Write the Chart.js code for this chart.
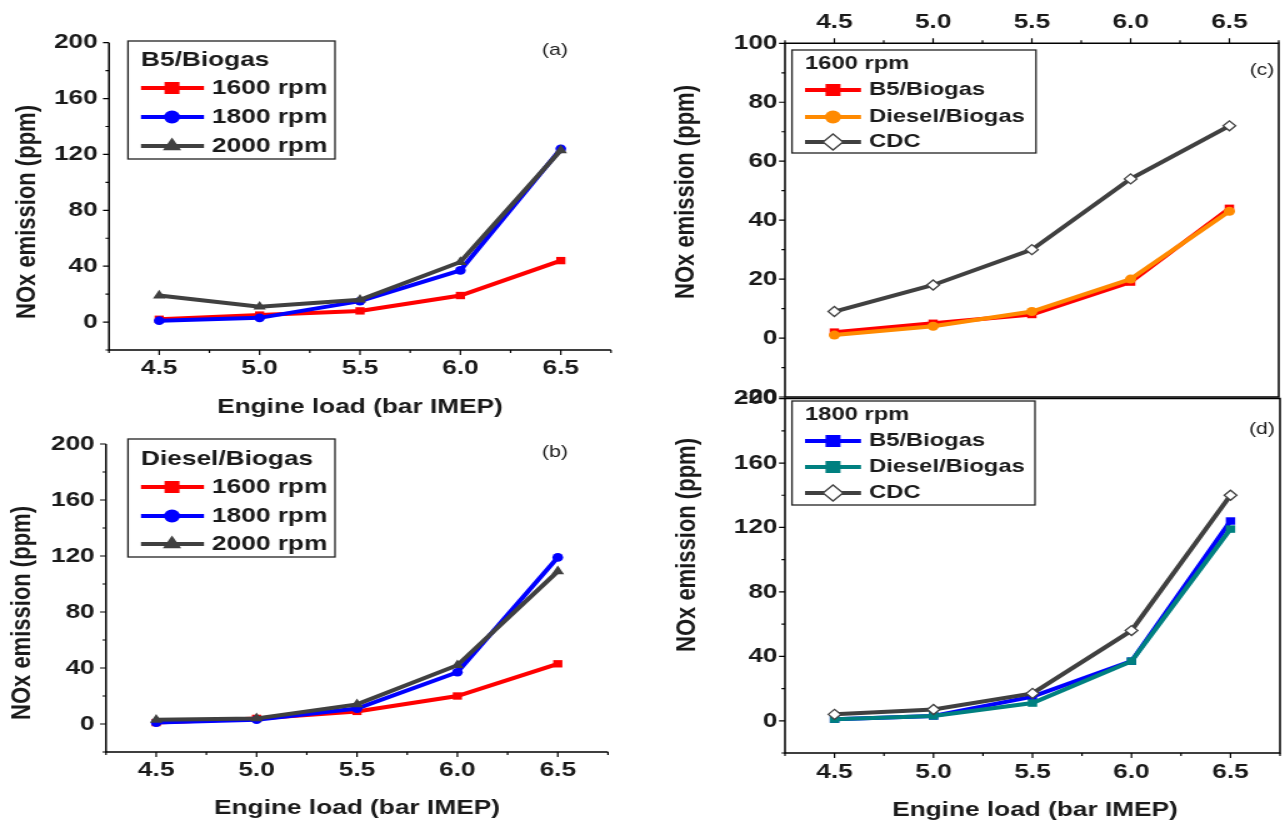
<!DOCTYPE html>
<html>
<head>
<meta charset="utf-8">
<title>NOx emission vs engine load</title>
<script src="https://cdn.jsdelivr.net/npm/chart.js@4.4.1/dist/chart.umd.min.js"></script>
<style>
  html, body { margin: 0; padding: 0; background: #fff; }
  body { width: 1287px; height: 821px; position: relative; overflow: hidden; }
  /* the source figure is stretched horizontally, so every panel is too */
  canvas { position: absolute; transform: scaleX(1.25); transform-origin: 0 0; }
</style>
</head>
<body>
<canvas id="chartA" width="512" height="420"></canvas>
<canvas id="chartB" width="512" height="401"></canvas>
<canvas id="chartC" width="519" height="420"></canvas>
<canvas id="chartD" width="519" height="441"></canvas>
<script>
// engine load (bar IMEP)
const loads = [4.5, 5.0, 5.5, 6.0, 6.5];
const xTickLabels = [4.5, 5.0, 5.5, 6.0, 6.5];
const yTicks200 = [0, 40, 80, 120, 160, 200];
const yTicks100 = [-20, 0, 20, 40, 60, 80, 100];

// NOx (ppm), B5/Biogas
const b5_1600 = [2, 5, 8, 19, 44];
const b5_1800 = [1, 3, 15, 37, 124];
const b5_2000 = [19, 11, 16, 43, 123];
// NOx (ppm), Diesel/Biogas
const dsl_1600 = [1, 4, 9, 20, 43];
const dsl_1800 = [1, 3, 11, 37, 119];
const dsl_2000 = [3, 4, 14, 42, 109];
// NOx (ppm), conventional diesel combustion
const cdc_1600 = [9, 18, 30, 54, 72];
const cdc_1800 = [4, 7, 17, 56, 140];

const S = 1.25;
const FONT = "'Liberation Sans', Arial, sans-serif";
const INK = "#1a1a1a";
Chart.defaults.font.family = FONT;

function drawMarker(ctx, style, x, y, r, color) {
  ctx.beginPath();
  if (style === "rect") ctx.rect(x - r, y - r, 2 * r, 2 * r);
  else if (style === "circle") ctx.arc(x, y, r, 0, Math.PI * 2);
  else if (style === "triangle") {
    ctx.moveTo(x, y - r);
    ctx.lineTo(x + 0.866 * r, y + 0.5 * r);
    ctx.lineTo(x - 0.866 * r, y + 0.5 * r);
    ctx.closePath();
  } else {
    ctx.moveTo(x - r, y);
    ctx.lineTo(x, y - r);
    ctx.lineTo(x + r, y);
    ctx.lineTo(x, y + r);
    ctx.closePath();
  }
  if (style === "rectRot") {
    ctx.fillStyle = "#fff";
    ctx.fill();
    ctx.strokeStyle = color;
    ctx.lineWidth = 1.3;
    ctx.stroke();
  } else {
    ctx.fillStyle = color;
    ctx.fill();
  }
}

function makePanel(p) {
  const canvas = document.getElementById(p.id);
  canvas.style.left = p.left + "px";
  canvas.style.top = p.top + "px";
  const W = canvas.width, H = canvas.height;
  const px = (x) => (x - p.left) / S;
  const py = (y) => y - p.top;
  const xAxisH = p.bottomLabels ? 50 : 0;

  const xLabel = (v) =>
    xTickLabels.some((t) => Math.abs(t - v) < 1e-6) ? v.toFixed(1) : "";
  const yLabel = (v) => {
    const n = Math.round(v);
    return Math.abs(v - n) < 1e-6 && p.yLabels.includes(n) ? String(n) : "";
  };
  const tickFont = { size: 21, weight: "bold" };

  const xScale = (position, pad, fit) => ({
    type: "linear",
    axis: "x",
    position: position,
    min: 4.25,
    max: 6.75,
    afterFit: fit,
    grid: { display: false, drawTicks: false },
    border: { display: false },
    ticks: {
      stepSize: 0.25,
      autoSkip: false,
      maxRotation: 0,
      padding: pad,
      color: INK,
      font: tickFont,
      callback: xLabel,
    },
  });

  const scales = {
    x: xScale("bottom", p.xPad || 0, (s) => { s.height = xAxisH; }),
    y: {
      type: "linear",
      min: p.yMin,
      max: p.yMax,
      afterFit: (s) => { s.width = px(p.area.l); },
      grid: { display: false, drawTicks: false },
      border: { display: false },
      ticks: {
        stepSize: p.yStep,
        autoSkip: false,
        padding: p.yPad,
        color: INK,
        font: tickFont,
        callback: yLabel,
      },
    },
  };
  scales.x.display = p.bottomLabels;
  if (p.topLabels) {
    scales.x2 = xScale("top", p.topPad, (s) => { s.height = py(p.area.t); });
  }

  const datasets = p.series.map((s) => ({
    label: s.label,
    data: loads.map((x, i) => ({ x: x, y: s.values[i] })),
    borderColor: s.color,
    backgroundColor: s.color,
    borderWidth: 4,
    pointStyle: s.style,
    pointRadius: s.r,
    pointBackgroundColor: s.style === "rectRot" ? "#fff" : s.color,
    pointBorderColor: s.color,
    pointBorderWidth: s.style === "rectRot" ? 1.3 : 0,
    order: s.order,
    clip: false,
  }));

  const deco = {
    id: "deco",
    afterDraw(chart) {
      const ctx = chart.ctx;
      const a = chart.chartArea;
      ctx.save();

      // axes / frame
      ctx.strokeStyle = "#000";
      ctx.lineWidth = 1.5;
      ctx.beginPath();
      if (p.frame) {
        ctx.rect(a.left, a.top, a.right - a.left, a.bottom - a.top);
      } else {
        ctx.moveTo(a.left, a.top);
        ctx.lineTo(a.left, a.bottom);
        ctx.lineTo(a.right, a.bottom);
      }
      ctx.stroke();

      // major and minor tick marks, outward
      ctx.lineWidth = 1.2;
      ctx.beginPath();
      const ys = chart.scales.y;
      ys.ticks.forEach((t) => {
        const yy = ys.getPixelForValue(t.value);
        const len = t.label ? 4.8 : 2.8;
        ctx.moveTo(a.left - len, yy);
        ctx.lineTo(a.left, yy);
      });
      const xAxes = [];
      if (p.bottomLabels) xAxes.push([chart.scales.x, a.bottom, 1]);
      if (p.topLabels) xAxes.push([chart.scales.x2, a.top, -1]);
      xAxes.forEach(([sc, y0, dir]) => {
        sc.ticks.forEach((t) => {
          const xx = sc.getPixelForValue(t.value);
          const len = t.label ? 5 : 3;
          ctx.moveTo(xx, y0);
          ctx.lineTo(xx, y0 + dir * len);
        });
      });
      ctx.stroke();

      // legend box
      const L = p.legend;
      ctx.strokeStyle = "#222";
      ctx.lineWidth = 1.3;
      ctx.strokeRect(px(L.box[0]), py(L.box[1]),
        (L.box[2] - L.box[0]) / S, L.box[3] - L.box[1]);
      ctx.fillStyle = INK;
      ctx.textBaseline = "middle";
      ctx.textAlign = "left";
      ctx.font = "bold " + L.font + "px " + FONT;
      ctx.fillText(L.title, px(L.line[0]), py(L.titleY));
      p.series.forEach((s, i) => {
        const yy = py(L.rows[i]);
        ctx.strokeStyle = s.color;
        ctx.lineWidth = 4;
        ctx.beginPath();
        ctx.moveTo(px(L.line[0]), yy);
        ctx.lineTo(px(L.line[1]), yy);
        ctx.stroke();
        drawMarker(ctx, s.style, px(L.markX), yy, s.lr, s.color);
        ctx.fillStyle = INK;
        ctx.fillText(s.label, px(L.textX), yy);
      });

      // panel tag
      ctx.textAlign = "center";
      ctx.font = "17px " + FONT;
      ctx.fillText(p.tag.text, px(p.tag.x), py(p.tag.y));

      // axis titles
      ctx.font = "bold 21px " + FONT;
      if (p.xTitle) {
        ctx.fillText("Engine load (bar IMEP)", px(p.xTitle.x), py(p.xTitle.y));
      }
      ctx.save();
      ctx.translate(px(p.yTitle.x), py(p.yTitle.y));
      ctx.rotate(-Math.PI / 2);
      ctx.font = "bold 22px " + FONT;
      ctx.fillText("NOx emission (ppm)", 0, 0);
      ctx.restore();

      ctx.restore();
    },
  };

  new Chart(canvas.getContext("2d"), {
    type: "line",
    data: { datasets: datasets },
    options: {
      responsive: false,
      animation: false,
      events: [],
      devicePixelRatio: 1,
      layout: {
        padding: {
          left: 0,
          top: p.topLabels ? 0 : py(p.area.t),
          right: W - px(p.area.r),
          bottom: H - py(p.area.b) - xAxisH,
        },
      },
      scales: scales,
      plugins: { legend: { display: false }, tooltip: { enabled: false } },
    },
    plugins: [deco],
  });
}

// (a) B5/Biogas
makePanel({
  id: "chartA", left: 0, top: 0,
  area: { l: 109, t: 42.7, r: 611, b: 350 },
  yMin: -20, yMax: 200, yStep: 20, yLabels: yTicks200, yPad: 9,
  bottomLabels: true, xPad: 6, topLabels: false, frame: false,
  series: [
    { label: "1600 rpm", values: b5_1600, color: "#ff0000", style: "rect", r: 5.2, lr: 6, order: 2 },
    { label: "1800 rpm", values: b5_1800, color: "#0000ff", style: "circle", r: 4.3, lr: 6.5, order: 1 },
    { label: "2000 rpm", values: b5_2000, color: "#404040", style: "triangle", r: 5.8, lr: 8.5, order: 0 },
  ],
  legend: { box: [128, 41, 335, 159], title: "B5/Biogas", titleY: 60, rows: [88, 117, 146],
    line: [141, 204], markX: 172, textX: 212, font: 21 },
  tag: { text: "(a)", x: 555, y: 50 },
  yTitle: { x: 27, y: 212 },
  xTitle: { x: 360, y: 407 },
});

// (b) Diesel/Biogas
makePanel({
  id: "chartB", left: 0, top: 420,
  area: { l: 106, t: 444, r: 608, b: 752 },
  yMin: -20, yMax: 200, yStep: 20, yLabels: yTicks200, yPad: 9,
  bottomLabels: true, xPad: 6, topLabels: false, frame: false,
  series: [
    { label: "1600 rpm", values: dsl_1600, color: "#ff0000", style: "rect", r: 5.2, lr: 6, order: 2 },
    { label: "1800 rpm", values: dsl_1800, color: "#0000ff", style: "circle", r: 4.3, lr: 6.5, order: 1 },
    { label: "2000 rpm", values: dsl_2000, color: "#404040", style: "triangle", r: 5.8, lr: 8.5, order: 0 },
  ],
  legend: { box: [128, 439, 335, 557], title: "Diesel/Biogas", titleY: 459, rows: [487, 516, 544],
    line: [141, 204], markX: 172, textX: 212, font: 21 },
  tag: { text: "(b)", x: 555, y: 452 },
  yTitle: { x: 23, y: 613 },
  xTitle: { x: 357, y: 808 },
});

// (c) 1600 rpm
makePanel({
  id: "chartC", left: 640, top: 0,
  area: { l: 785, t: 43.3, r: 1286, b: 397 },
  yMin: -20, yMax: 100, yStep: 10, yLabels: yTicks100, yPad: 6,
  bottomLabels: false, topLabels: true, topPad: 8, frame: true,
  series: [
    { label: "B5/Biogas", values: b5_1600, color: "#ff0000", style: "rect", r: 5.3, lr: 6, order: 2 },
    { label: "Diesel/Biogas", values: dsl_1600, color: "#ff8a00", style: "circle", r: 4.5, lr: 6.5, order: 1 },
    { label: "CDC", values: cdc_1600, color: "#404040", style: "rectRot", r: 5, lr: 8, order: 0 },
  ],
  legend: { box: [792, 50, 1036, 153], title: "1600 rpm", titleY: 64, rows: [90, 117, 142],
    line: [805, 861], markX: 833, textX: 869, font: 19 },
  tag: { text: "(c)", x: 1262, y: 70 },
  yTitle: { x: 686, y: 192 },
  xTitle: null,
});

// (d) 1800 rpm
makePanel({
  id: "chartD", left: 640, top: 380,
  area: { l: 785, t: 397, r: 1286, b: 753 },
  yMin: -20, yMax: 200, yStep: 20, yLabels: yTicks200, yPad: 6,
  bottomLabels: true, xPad: 7, topLabels: false, frame: true,
  series: [
    { label: "B5/Biogas", values: b5_1800, color: "#0000ff", style: "rect", r: 5.3, lr: 6, order: 2 },
    { label: "Diesel/Biogas", values: dsl_1800, color: "#008080", style: "rect", r: 5.3, lr: 6, order: 1 },
    { label: "CDC", values: cdc_1800, color: "#404040", style: "rectRot", r: 5, lr: 8, order: 0 },
  ],
  legend: { box: [792, 401, 1035, 505], title: "1800 rpm", titleY: 415, rows: [441, 467, 493],
    line: [805, 861], markX: 833, textX: 869, font: 19 },
  tag: { text: "(d)", x: 1262, y: 429 },
  yTitle: { x: 687, y: 545 },
  xTitle: { x: 1035, y: 810 },
});
</script>
</body>
</html>
